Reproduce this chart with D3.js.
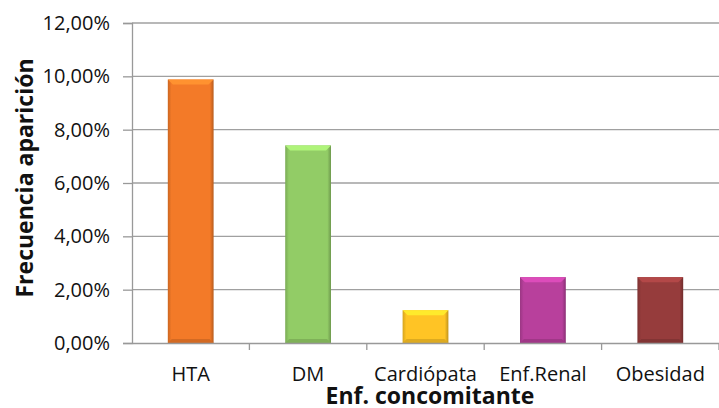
<!DOCTYPE html>
<html lang="es">
<head>
<meta charset="UTF-8">
<title>Frecuencia aparición</title>
<script src="https://d3js.org/d3.v7.min.js"></script>
<style>
  body { margin: 0; background: #fff; }
  svg text { font-family: "Open Sans", "Liberation Sans", sans-serif; fill: #111; }
</style>
</head>
<body>
<svg width="719" height="408"></svg>
<script>
// datos
const categorias = ["HTA", "DM", "Cardiópata", "Enf.Renal", "Obesidad"];
const frecuencias = [0.0988, 0.0741, 0.0123, 0.0247, 0.0247];
const colores = ["#F37A28", "#92CC66", "#FFC425", "#B8409C", "#963C3C"];
const ticksY = [0, 0.02, 0.04, 0.06, 0.08, 0.10, 0.12];

const svg = d3.select("svg");
const mLeft = 132, mRight = 719, mTop = 23, mBottom = 343;

const x = d3.scaleBand().domain(categorias).range([mLeft, mRight]).paddingInner(0.61).paddingOuter(0.305);
const xb = d3.scaleBand().domain(categorias).range([mLeft, mRight]);
const y = d3.scaleLinear().domain([0, 0.12]).range([mBottom, mTop]);

const fmt = d => (d * 100).toFixed(2).replace(".", ",") + "%";

// gradientes tipo bisel
const defs = svg.append("defs");
categorias.forEach((c, i) => {
  const g = defs.append("linearGradient").attr("id", "g" + i).attr("x1", 0).attr("x2", 1);
  const base = d3.color(colores[i]);
  g.append("stop").attr("offset", 0).attr("stop-color", base.darker(0.5));
  g.append("stop").attr("offset", 0.08).attr("stop-color", base);
  g.append("stop").attr("offset", 0.92).attr("stop-color", base);
  g.append("stop").attr("offset", 1).attr("stop-color", base.darker(0.8));
});

// rejilla
svg.append("g")
  .selectAll("line")
  .data(ticksY.slice(1))
  .join("line")
  .attr("x1", mLeft).attr("x2", mRight)
  .attr("y1", d => y(d)).attr("y2", d => y(d))
  .attr("stroke", "#a0a0a0").attr("stroke-width", 1.3);

// eje Y
const ay = svg.append("g")
  .attr("transform", `translate(${mLeft},0)`)
  .call(d3.axisLeft(y).tickValues(ticksY).tickFormat(fmt).tickSize(9).tickPadding(13));
ay.select(".domain").attr("stroke", "#999").attr("stroke-width", 1.3);
ay.selectAll(".tick line").attr("stroke", "#999").attr("stroke-width", 1.3);
ay.selectAll("text").attr("font-size", 20).attr("fill", "#111");

// barras
const bars = svg.append("g").selectAll("g").data(categorias).join("g");
bars.append("rect")
  .attr("x", d => x(d))
  .attr("y", (d, i) => y(frecuencias[i]))
  .attr("width", x.bandwidth())
  .attr("height", (d, i) => mBottom - y(frecuencias[i]))
  .attr("fill", (d, i) => `url(#g${i})`);
bars.append("path")
  .attr("d", (d, i) => {
    const x0 = x(d), x1 = x0 + x.bandwidth(), y0 = y(frecuencias[i]), h = 5;
    return `M${x0},${y0}L${x1},${y0}L${x1 - h},${y0 + h}L${x0 + h},${y0 + h}Z`;
  })
  .attr("fill", (d, i) => d3.color(colores[i]).brighter(0.5));
bars.append("path")
  .attr("d", (d, i) => {
    const x0 = x(d), x1 = x0 + x.bandwidth(), h = 4;
    return `M${x0},${mBottom}L${x1},${mBottom}L${x1 - h},${mBottom - h}L${x0 + h},${mBottom - h}Z`;
  })
  .attr("fill", (d, i) => d3.color(colores[i]).darker(0.4));

// eje X
const ax = svg.append("g")
  .attr("transform", `translate(0,${mBottom})`)
  .call(d3.axisBottom(xb).tickSize(0).tickPadding(24));
ax.select(".domain").attr("stroke", "#999").attr("stroke-width", 1.3);
ax.selectAll("text").attr("font-size", 20).attr("fill", "#111");
svg.append("g").selectAll("line")
  .data(categorias)
  .join("line")
  .attr("x1", d => xb(d) + xb.bandwidth())
  .attr("x2", d => xb(d) + xb.bandwidth())
  .attr("y1", mBottom).attr("y2", mBottom + 7)
  .attr("stroke", "#999").attr("stroke-width", 1.3);

// títulos
svg.append("text")
  .attr("transform", "translate(33,178) rotate(-90)")
  .attr("text-anchor", "middle")
  .attr("font-size", 23).attr("font-weight", "bold")
  .text("Frecuencia aparición");
svg.append("text")
  .attr("x", 430).attr("y", 404)
  .attr("text-anchor", "middle")
  .attr("font-size", 23).attr("font-weight", "bold")
  .text("Enf. concomitante");
</script>
</body>
</html>
